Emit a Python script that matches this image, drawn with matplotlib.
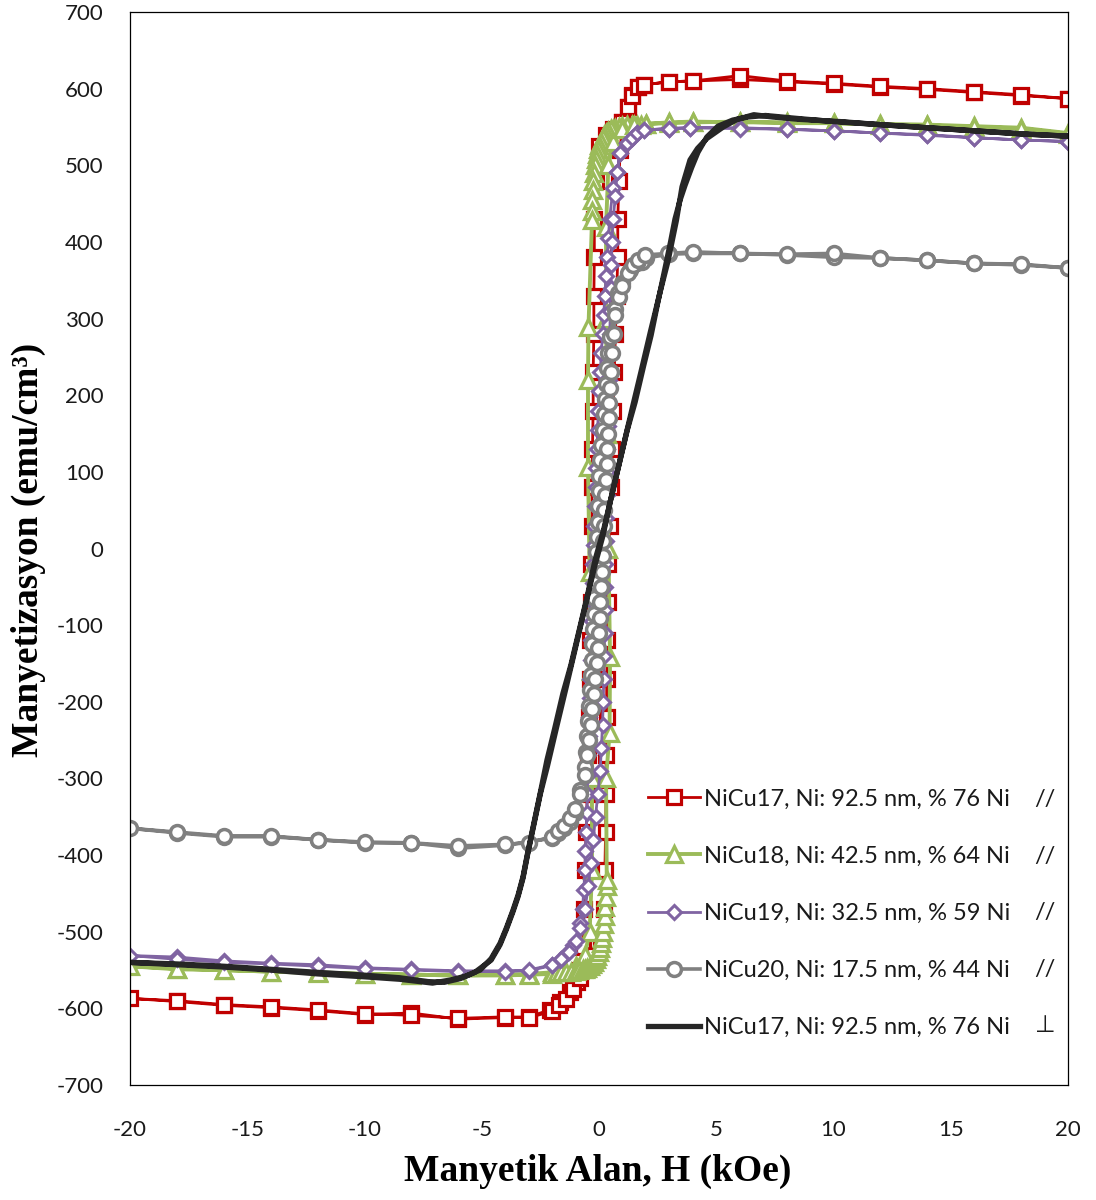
import matplotlib
matplotlib.use('Agg')
import matplotlib.pyplot as plt

plt.rcParams['axes.unicode_minus'] = False

# Histerezis verileri (H: kOe, M: emu/cm3) - azalan ve artan kollar
red_h_down = [20, 18, 16, 14, 12, 10, 8, 6, 4, 3, 1.9, 1.66, 1.4, 1.25, 1.0, 0.6, 0.3, 0.0,
              -0.15, -0.2, -0.2, -0.22, -0.22, -0.25, -0.25, -0.28, -0.3, -0.3, -0.33, -0.35,
              -0.38, -0.4, -0.42, -0.45, -0.5, -0.55, -0.6, -0.65, -0.7, -0.8, -0.95, -1.25,
              -1.65, -2.1, -3, -4, -6, -8, -10, -12, -14, -16, -18, -20]
red_m_down = [587, 591, 595, 599, 602, 606, 609, 612, 610, 609, 605, 602, 592, 576, 556, 548, 540, 525,
              480, 430, 380, 330, 280, 230, 180, 130, 80, 30, -20, -70,
              -120, -170, -220, -270, -320, -370, -420, -470, -520, -550, -566, -579,
              -592, -602, -611, -612, -614, -606, -608, -603, -599, -596, -591, -587]
red_h_up = [-18, -16, -14, -12, -10, -8, -6, -4, -3, -2, -1.7, -1.4, -1.1, -0.8, -0.5, -0.2, 0.1,
            0.2, 0.25, 0.28, 0.3, 0.3, 0.32, 0.33, 0.35, 0.38, 0.4, 0.45, 0.5, 0.55, 0.6, 0.65,
            0.7, 0.75, 0.8, 0.8, 0.85, 0.9, 1.0, 1.25, 1.4, 1.66, 1.9, 3, 4, 6, 8, 10, 12, 14,
            16, 18, 20]
red_m_up = [-590, -595, -598, -602, -607, -609, -613, -611, -612, -604, -596, -588, -575, -560, -545, -530, -510,
            -470, -420, -370, -320, -270, -220, -170, -120, -70, -20, 30, 80, 130, 180, 230,
            280, 330, 380, 430, 480, 520, 556, 576, 590, 602, 605, 609, 610, 617, 610, 607, 603, 600,
            596, 592, 587]

green_h_down = [20, 18, 16, 14, 12, 10, 8, 6, 4, 3, 2,
                1.8, 1.6, 1.4, 1.2, 1.0, 0.85, 0.7, 0.6, 0.5, 0.4, 0.3, 0.22, 0.15, 0.08, 0.02,
                -0.04, -0.1, -0.14, -0.18, -0.21, -0.24, -0.27, -0.3, -0.32, -0.3,
                -0.45, -0.47, -0.47, -0.4, -0.35, -0.3, -0.3, -0.4, -0.6, -1.0,
                -1.5, -2, -3, -4, -6, -8, -10, -12, -14, -16, -18, -20]
green_m_down = [542, 549, 551, 553, 554, 555, 555, 557, 556, 555, 554,
                553, 553, 552, 552, 551, 550, 549, 548, 547, 545, 542, 539, 535, 531, 526,
                521, 515, 508, 500, 490, 480, 468, 455, 440, 428,
                289, 220, 106, -30, -160, -300, -420, -500, -530, -545,
                -550, -553, -555, -556, -557, -556, -555, -553, -552, -550, -549, -545]
green_h_up = [-18, -16, -14, -12, -10, -8, -6, -4, -3, -2,
              -1.8, -1.6, -1.4, -1.2, -1.0, -0.85, -0.7, -0.6, -0.5, -0.4, -0.3, -0.22, -0.15,
              -0.08, -0.02, 0.04, 0.1, 0.14, 0.18, 0.21, 0.24, 0.27, 0.3, 0.32, 0.33,
              0.3, 0.45, 0.47, 0.4, 0.35, 0.3, 0.3, 0.4, 0.6, 1.0,
              1.5, 2, 3, 4, 6, 8, 10, 12, 14, 16, 18, 20]
green_m_up = [-548, -550, -552, -554, -555, -556, -557, -557, -556, -555,
              -553, -553, -552, -552, -551, -550, -549, -548, -547, -545, -542, -539, -535,
              -531, -526, -521, -515, -508, -500, -490, -480, -468, -455, -440, -433,
              -300, -241, -141, 0, 150, 300, 420, 500, 530, 547,
              552, 554, 556, 557, 556, 556, 555, 553, 552, 550, 548, 541]

purple_h_down = [20, 18, 16, 14, 12, 10, 8, 6, 3.9, 3.0, 1.9, 1.6, 1.4, 1.2, 0.9, 0.77, 0.6,
                 0.45, 0.4, 0.35, 0.3, 0.25, 0.2, 0.15, 0.1, 0.05, 0.0, -0.03, -0.06, -0.09,
                 -0.12, -0.15, -0.18, -0.2, -0.22, -0.25, -0.27, -0.3, -0.32, -0.34, -0.36,
                 -0.38, -0.4, -0.42, -0.44, -0.46, -0.48, -0.5, -0.52, -0.55, -0.58, -0.6,
                 -0.65, -0.7, -0.8, -1.1, -1.36, -1.66, -2, -3, -4, -6, -8, -10, -12, -14,
                 -16, -18, -20]
purple_m_down = [531, 533, 536, 540, 542, 545, 547, 549, 549, 548, 546, 542, 535, 529, 516, 491, 470,
                 430, 405, 380, 355, 330, 305, 280, 255, 230, 205, 180, 155, 130,
                 105, 80, 55, 30, 5, -20, -45, -70, -95, -120, -145,
                 -170, -195, -220, -245, -270, -295, -320, -345, -370, -395, -420,
                 -445, -470, -489, -517, -528, -537, -544, -551, -551, -551, -549, -547, -543, -541,
                 -538, -533, -531]
purple_h_up = [-18, -16, -14, -12, -10, -8, -6, -4, -3, -2, -1.6, -1.3, -1.0, -0.8, -0.6,
               -0.45, -0.35, -0.25, -0.15, -0.05, 0.05, 0.1, 0.15, 0.18, 0.2, 0.22, 0.24, 0.25,
               0.26, 0.27, 0.28, 0.3, 0.32, 0.34, 0.36, 0.38, 0.4, 0.42, 0.44, 0.46, 0.48, 0.5,
               0.52, 0.55, 0.6, 0.7, 0.77, 0.9, 1.2, 1.4, 1.6, 1.9, 3, 3.9, 6, 8, 10, 12, 14,
               16, 18, 20]
purple_m_up = [-536, -540, -542, -545, -548, -550, -552, -552, -550, -543, -535, -526, -512, -495, -470,
               -440, -410, -380, -350, -320, -290, -260, -230, -200, -170, -140, -110, -80,
               -50, -20, 10, 40, 70, 100, 130, 160, 190, 220, 250, 280, 310, 340,
               370, 400, 430, 460, 491, 516, 529, 535, 542, 546, 548, 549, 548, 547, 545, 542, 539,
               536, 533, 531]

gray_h_down = [20, 18, 16, 14, 12, 10, 8, 6, 4, 3, 2, 1.83, 1.6, 1.3, 1.0, 0.8, 0.68, 0.47, 0.38,
               0.35, 0.3, 0.25, 0.2, 0.15, 0.1, 0.05, 0.02, 0.0, -0.03, -0.06, -0.09, -0.12, -0.15,
               -0.18, -0.2, -0.23, -0.26, -0.29, -0.32, -0.35, -0.38, -0.42, -0.45, -0.5, -0.55,
               -0.6, -0.8, -1.02, -1.24, -1.5, -1.75, -2, -4, -6, -8, -10, -12, -14, -16, -18, -20]
gray_m_down = [366, 370, 372, 376, 379, 380, 383, 385, 385, 384, 379, 374, 372, 363, 346, 333, 313, 276, 255,
               235, 215, 195, 175, 155, 135, 115, 95, 75, 55, 35, 15, -5, -25,
               -45, -65, -85, -105, -125, -145, -165, -185, -205, -225, -245, -265,
               -285, -315, -345, -357, -365, -371, -378, -387, -391, -384, -384, -380, -376, -376, -371, -365]
gray_h_up = [-18, -16, -14, -12, -10, -8, -6, -4, -3, -2, -1.75, -1.5, -1.24, -1.02, -0.8, -0.6,
             -0.5, -0.42, -0.35, -0.28, -0.22, -0.16, -0.1, -0.05, 0.0, 0.03, 0.06, 0.09, 0.12,
             0.15, 0.18, 0.2, 0.23, 0.26, 0.29, 0.32, 0.35, 0.38, 0.41, 0.44, 0.47, 0.5, 0.55,
             0.62, 0.7, 0.85, 1.0, 1.24, 1.45, 1.66, 1.96, 2.94, 4, 6, 8, 10, 12, 14, 16, 18, 20]
gray_m_up = [-370, -375, -375, -380, -383, -384, -388, -386, -384, -376, -369, -362, -352, -340, -320, -295,
             -270, -250, -230, -210, -190, -170, -150, -130, -110, -90, -70, -50, -30,
             -10, 10, 30, 50, 70, 90, 110, 130, 150, 170, 190, 210, 230, 255,
             280, 305, 328, 343, 359, 370, 376, 383, 385, 387, 385, 384, 385, 379, 376, 372, 371, 366]

black_h_down = [20, 18, 16, 14, 12, 10.3, 8.5, 7.4, 6.6, 5.9, 5.3, 4.6, 4.2, 3.88, 3.54, 3.3,
                2.95, 2.6, 2.2, 1.8, 1.4, 1.0, 0.6, 0.2, -0.17, -0.5, -0.81, -1.2, -1.54, -1.9,
                -2.22, -2.5, -2.81, -3.05, -3.24, -3.45, -3.67, -3.95, -4.22, -4.6, -5.07, -5.7,
                -6.35, -7.1, -8.5, -9.9, -12, -14, -16, -18, -20]
black_m_down = [538, 541, 545, 549, 553, 557, 560, 563, 566, 560, 550, 535, 522, 507, 472, 428,
                376, 334, 284, 232, 181, 129, 77, 25, -15, -62, -102, -152, -189, -236,
                -276, -318, -363, -398, -428, -452, -472, -495, -515, -535, -550, -558,
                -563, -567, -562, -559, -555, -550, -546, -543, -540]
black_h_up = [-18, -16, -14, -12, -10.3, -8.5, -7.3, -6.6, -5.9, -5.3, -4.6, -4.22, -3.95, -3.67,
              -3.45, -3.24, -3.05, -2.81, -2.5, -2.2, -1.8, -1.4, -1.0, -0.6, -0.2, 0.17, 0.5,
              0.81, 1.2, 1.54, 1.9, 2.22, 2.5, 2.81, 3.05, 3.24, 3.45, 3.67, 3.95, 4.22, 4.6,
              5.07, 5.7, 6.35, 7.1, 8.5, 10, 12, 14, 16, 18, 20]
black_m_up = [-542, -545, -549, -553, -556, -560, -565, -566, -561, -553, -537, -517, -497, -474,
              -454, -430, -400, -365, -320, -284, -232, -181, -129, -77, -25, 17, 64,
              104, 154, 191, 238, 278, 320, 365, 400, 430, 454, 474, 497, 517, 537,
              551, 559, 563, 565, 561, 557, 553, 549, 545, 541, 538]

labels = ['NiCu17, Ni: 92.5 nm, % 76 Ni',
          'NiCu18, Ni: 42.5 nm, % 64 Ni',
          'NiCu19, Ni: 32.5 nm, % 59 Ni',
          'NiCu20, Ni: 17.5 nm, % 44 Ni',
          'NiCu17, Ni: 92.5 nm, % 76 Ni']
directions = ['//', '//', '//', '//', '\u22a5']

fig = plt.figure(figsize=(10.96, 12), dpi=100)
ax = fig.add_axes([0.1186, 0.0958, 0.8559, 0.8942])

ax.plot(red_h_down + red_h_up, red_m_down + red_m_up, color='#C00000', lw=2.0,
        marker='s', ms=10, mfc='white', mec='#C00000', mew=2.3, label=labels[0])
ax.plot(green_h_down + green_h_up, green_m_down + green_m_up, color='#9BBB59', lw=2.8,
        marker='^', ms=11, mfc='white', mec='#9BBB59', mew=2.3, label=labels[1])
ax.plot(purple_h_down + purple_h_up, purple_m_down + purple_m_up, color='#8064A2', lw=2.0,
        marker='D', ms=7.5, mfc='white', mec='#8064A2', mew=2.2, label=labels[2])
ax.plot(gray_h_down + gray_h_up, gray_m_down + gray_m_up, color='#808080', lw=2.6,
        marker='o', ms=10, mfc='white', mec='#808080', mew=2.5, label=labels[3])
ax.plot(black_h_down + black_h_up, black_m_down + black_m_up, color='#262626', lw=3.8,
        solid_joinstyle='round', label=labels[4])

ax.set_xlim(-20, 20)
ax.set_ylim(-700, 700)
ax.set_xticks(range(-20, 21, 5))
ax.set_yticks(range(-700, 701, 100))
ax.tick_params(length=0, labelsize=16)
ax.tick_params(axis='y', pad=19)
ax.tick_params(axis='x', pad=25)
for lab in ax.get_xticklabels() + ax.get_yticklabels():
    lab.set_family(['Lato', 'DejaVu Sans'])
    lab.set_color('#1a1a1a')
for sp in ax.spines.values():
    sp.set_linewidth(0.9)

serif = ['Liberation Serif', 'DejaVu Serif']
fig.text(598 / 1096, 1 - 1171 / 1200, 'Manyetik Alan, H (kOe)', family=serif,
         fontweight='bold', fontsize=27, ha='center', va='center')
fig.text(28 / 1096, 1 - 550 / 1200, 'Manyetizasyon (emu/cm³)', family=serif,
         fontweight='bold', fontsize=27, ha='center', va='center', rotation=90)

leg = ax.legend(loc='upper left', bbox_to_anchor=(0.552, 0.2763), frameon=False,
                prop={'family': ['Lato', 'DejaVu Sans'], 'size': 17},
                handlelength=2.2, handletextpad=0.2, labelspacing=1.53,
                borderpad=0, borderaxespad=0)
for txt in leg.get_texts():
    txt.set_color('#1a1a1a')

row_y = [0.2665, 0.2134, 0.1612, 0.1081, 0.0559]
for yy, d in zip(row_y, directions):
    ax.text(0.9755, yy, d, transform=ax.transAxes, ha='center', va='center',
            fontsize=17, family=['Lato', 'DejaVu Sans'], color='#1a1a1a')

fig.savefig('out.png', dpi=100)
